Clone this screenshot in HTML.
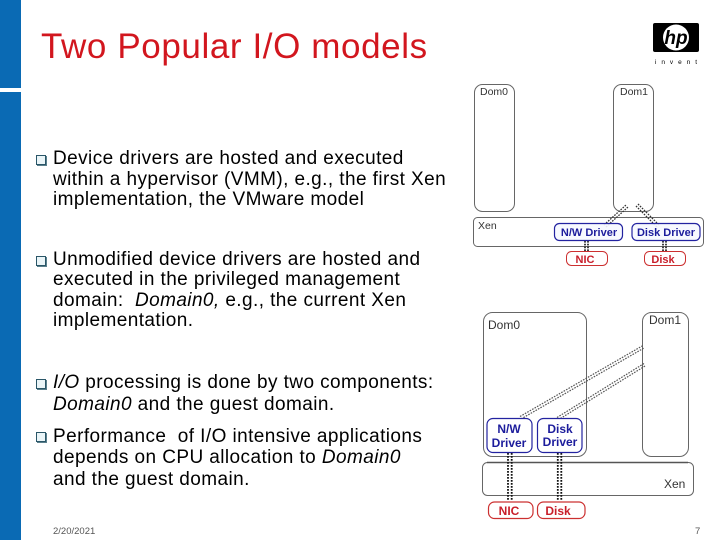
<!DOCTYPE html>
<html>
<head>
<meta charset="utf-8">
<style>
html,body{margin:0;padding:0;background:#fff}
#s{position:relative;width:720px;height:540px;overflow:hidden;background:#fff;font-family:"Liberation Sans",sans-serif;color:#000}
.t{position:absolute;white-space:nowrap;font-size:19px;letter-spacing:.42px;line-height:20.5px;left:53px}
.b{position:absolute;left:36px;width:8px;height:8px;border:1px solid #2a5668;background:#eaf5f8;box-shadow:1px 1px 0 #5a7f8c}
svg{position:absolute;left:0;top:0}
</style>
</head>
<body>
<div id="s">
<div style="position:absolute;left:0;top:0;width:21px;height:88px;background:#0a6ab4"></div>
<div style="position:absolute;left:0;top:92px;width:21px;height:448px;background:#0a6ab4"></div>
<div style="position:absolute;left:41px;top:27px;font-size:35px;letter-spacing:.6px;line-height:40px;white-space:nowrap;color:#d2161e">Two Popular I/O models</div>

<div class="b" style="top:155px"></div>
<div class="t" style="top:149px">Device drivers are hosted and executed<br>within a hypervisor (VMM), e.g., the first Xen<br>implementation, the VMware model</div>
<div class="b" style="top:256px"></div>
<div class="t" style="top:249.5px">Unmodified device drivers are hosted and<br>executed in the privileged management<br>domain:&nbsp; <i>Domain0,</i> e.g., the current Xen<br>implementation.</div>
<div class="b" style="top:379px"></div>
<div class="t" style="top:372px;line-height:22px"><i>I/O</i> processing is done by two components:<br><i>Domain0</i> and the guest domain.</div>
<div class="b" style="top:432px"></div>
<div class="t" style="top:425.5px;line-height:21.5px">Performance&nbsp; of I/O intensive applications<br>depends on CPU allocation to <i>Domain0</i><br>and the guest domain.</div>

<div style="position:absolute;left:53px;top:526px;font-size:9.5px;line-height:11px;color:#555">2/20/2021</div>
<div style="position:absolute;left:695px;top:526px;font-size:9.5px;line-height:11px;color:#555">7</div>

<svg width="720" height="540" viewBox="0 0 720 540" font-family="Liberation Sans, sans-serif">
<!-- HP logo -->
<rect x="653" y="23" width="46" height="29" rx="2" fill="#000"/>
<circle cx="676" cy="37.5" r="13" fill="#fff"/>
<text x="676" y="44" font-size="19" font-style="italic" font-weight="bold" text-anchor="middle" fill="#000">hp</text>
<text x="655" y="64" font-size="6.5" fill="#000" textLength="42">invent</text>

<!-- Top diagram -->
<g fill="none" stroke="#666" stroke-width="1">
<rect x="474.5" y="84.5" width="40" height="127" rx="8"/>
<rect x="613.5" y="84.5" width="40" height="127" rx="8"/>
<rect x="473.5" y="217.5" width="230" height="29" rx="4"/>
</g>
<g fill="none" stroke="#333" stroke-width="1.3" stroke-dasharray="1.6 1.2">
<path d="M604 225L626 205"/><path d="M606 227L628 207"/>
<path d="M636 206L658 228"/><path d="M638 204L660 226"/>
</g>
<g fill="none" stroke="#111" stroke-width="1.6" stroke-dasharray="1.6 1.2">
<path d="M585 241V251"/><path d="M588 241V251"/>
<path d="M663 241V251"/><path d="M666 241V251"/>
</g>
<g fill="#f6f8ff" stroke="#2323a0" stroke-width="1.2">
<rect x="554.5" y="223.5" width="68" height="17" rx="5" fill-opacity=".9"/>
<rect x="632" y="223.5" width="68" height="17" rx="5" fill-opacity=".9"/>
</g>
<g fill="#fff" stroke="#cc3030" stroke-width="1">
<rect x="566.5" y="251.5" width="41" height="14" rx="5"/>
<rect x="644.5" y="251.5" width="41" height="14" rx="5"/>
</g>
<g font-size="10.5" fill="#333">
<text x="480" y="95">Dom0</text>
<text x="620" y="95">Dom1</text>
<text x="478" y="229">Xen</text>
</g>
<g font-size="11" font-weight="bold" fill="#1c1c9c" text-anchor="middle">
<text x="589" y="236">N/W Driver</text>
<text x="666" y="236">Disk Driver</text>
</g>
<g font-size="11" font-weight="bold" fill="#c81e2a" text-anchor="middle">
<text x="585" y="263">NIC</text>
<text x="663" y="263">Disk</text>
</g>

<!-- Bottom diagram -->
<g fill="none" stroke="#666" stroke-width="1">
<rect x="483.5" y="312.5" width="103" height="144" rx="9"/>
<rect x="642.5" y="312.5" width="46" height="144" rx="9"/>
<rect x="482.5" y="462.5" width="211" height="33" rx="5"/>
</g>
<path d="M487 462.5H688" stroke="#555" stroke-width="1.5" fill="none"/>
<g fill="none" stroke="#555" stroke-width="1.2" stroke-dasharray="1.6 1.2">
<path d="M520 416.5L643 345.5"/><path d="M521 419L644 348"/>
<path d="M557 417.5L644 363.5"/><path d="M558 420L645 366"/>
</g>
<g fill="none" stroke="#111" stroke-width="1.8" stroke-dasharray="1.7 1.3">
<path d="M508 453V501"/><path d="M511.7 453V501"/>
<path d="M557.8 453V501"/><path d="M561.3 453V501"/>
</g>
<g fill="#fff" stroke="#2323a0" stroke-width="1.2">
<rect x="487" y="418.5" width="45" height="34" rx="6"/>
<rect x="537.5" y="418.5" width="44.5" height="34" rx="6"/>
</g>
<g fill="#fff" stroke="#cc3030" stroke-width="1.2">
<rect x="488.5" y="502" width="44.5" height="16.5" rx="6"/>
<rect x="537.5" y="502" width="47.5" height="16.5" rx="6"/>
</g>
<g font-size="12" fill="#333">
<text x="488" y="329">Dom0</text>
<text x="649" y="324">Dom1</text>
<text x="664" y="488">Xen</text>
</g>
<g font-size="12" font-weight="bold" fill="#1c1c9c" text-anchor="middle">
<text x="509" y="433">N/W</text>
<text x="509" y="447">Driver</text>
<text x="560" y="433">Disk</text>
<text x="560" y="446">Driver</text>
</g>
<g font-size="12" font-weight="bold" fill="#c81e2a" text-anchor="middle">
<text x="509" y="515">NIC</text>
<text x="558" y="515">Disk</text>
</g>
</svg>
</div>
</body>
</html>
